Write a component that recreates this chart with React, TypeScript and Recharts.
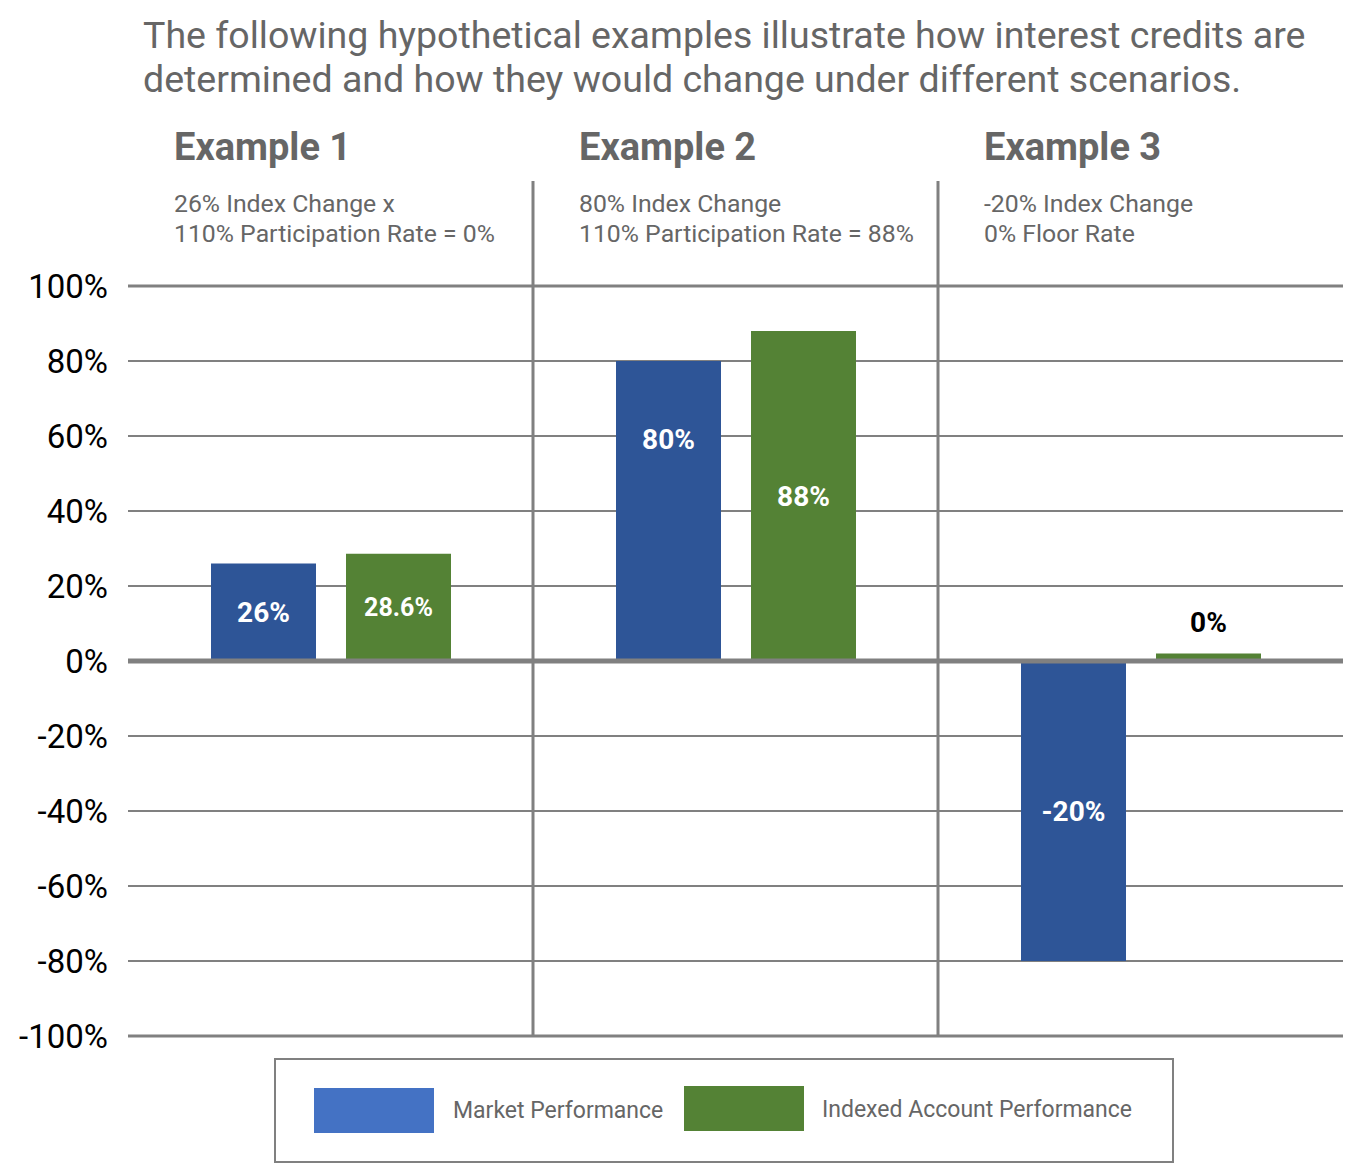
import React from "react";
import {
  BarChart,
  Bar,
  XAxis,
  YAxis,
  CartesianGrid,
  ReferenceLine,
  LabelList,
} from "recharts";

const examples = ["Example 1", "Example 2", "Example 3"];
const descLine1 = ["26% Index Change x", "80% Index Change", "-20% Index Change"];
const descLine2 = [
  "110% Participation Rate = 0%",
  "110% Participation Rate = 88%",
  "0% Floor Rate",
];
// bar heights as drawn
const marketValues = [26, 80, -80];
const indexedValues = [28.6, 88, 2];
// printed labels
const marketLabels = ["26%", "80%", "-20%"];
const indexedLabels = ["28.6%", "88%", "0%"];
const yTicks = [-100, -80, -60, -40, -20, 0, 20, 40, 60, 80, 100];
// column boundaries on the helper axis
const separators = [1, 2];

const data = examples.map((name, i) => ({
  name,
  pos: i + 0.5,
  market: marketValues[i],
  indexed: indexedValues[i],
}));

const BLUE = "#2E5597";
const GREEN = "#548235";
const GRID = "#808080";
const FONT = "Roboto, 'Noto Sans', sans-serif";

// header text above each column, x comes from the axis
const HeaderTick = ({ x, payload, index }: any) => {
  const left = x - 202.5 + 46;
  return (
    <g>
      <text
        x={left}
        y={160}
        fontSize={38}
        fontWeight={700}
        fill="#666666"
        fontFamily={FONT}
      >
        {payload.value}
      </text>
      <text x={left} y={212} fontSize={24.8} fill="#666666" fontFamily={FONT}>
        {descLine1[index]}
      </text>
      <text x={left} y={242} fontSize={24.8} fill="#666666" fontFamily={FONT}>
        {descLine2[index]}
      </text>
    </g>
  );
};

const YTick = ({ y, payload }: any) => (
  <text
    x={108}
    y={y}
    dy={12}
    textAnchor="end"
    fontSize={33}
    fill="#000"
    fontFamily={FONT}
  >
    {payload.value}%
  </text>
);

const makeLabel = (labels: string[], series: string) => (props: any) => {
  const { x, y, width, height, index } = props;
  const cx = x + width / 2;
  const h = Number(height);
  const text = labels[index];
  const size = text.length > 4 ? 25 : 28;
  // the small bar gets its label above it in black
  if (Math.abs(h) < 20) {
    return (
      <text
        x={cx}
        y={y - 22}
        textAnchor="middle"
        fontSize={size}
        fontWeight={700}
        fill="#000"
        fontFamily={FONT}
      >
        {text}
      </text>
    );
  }
  let cy = y + h / 2;
  if (series === "market" && index === 1) cy = y + h * 0.26;
  return (
    <text
      x={cx}
      y={cy}
      dy={size * 0.36}
      textAnchor="middle"
      fontSize={size}
      fontWeight={700}
      fill="#fff"
      fontFamily={FONT}
    >
      {text}
    </text>
  );
};

export default function App() {
  return (
    <div
      style={{
        position: "absolute",
        left: 0,
        top: 0,
        width: 1346,
        height: 1164,
        background: "#fff",
        fontFamily: FONT,
      }}
    >
      <div
        style={{
          position: "absolute",
          left: 143,
          top: 13,
          fontSize: 37.5,
          lineHeight: "44px",
          color: "#666666",
          whiteSpace: "nowrap",
        }}
      >
        The following hypothetical examples illustrate how interest credits are
        <br />
        determined and how they would change under different scenarios.
      </div>

      <BarChart
        width={1346}
        height={1164}
        data={data}
        margin={{ top: 256, right: 3, bottom: 128, left: 0 }}
        barSize={105}
        barGap={30}
        style={{ position: "absolute", left: 0, top: 0 }}
      >
        <CartesianGrid
          horizontal
          vertical={false}
          stroke={GRID}
          strokeWidth={2}
        />
        <XAxis
          dataKey="name"
          orientation="top"
          height={30}
          axisLine={false}
          tickLine={false}
          tick={<HeaderTick />}
          interval={0}
        />
        <XAxis
          xAxisId="sep"
          dataKey="pos"
          type="number"
          domain={[0, 3]}
          allowDataOverflow
          hide
        />
        <YAxis
          width={128}
          domain={[-100, 100]}
          ticks={yTicks}
          axisLine={false}
          tickLine={false}
          tick={<YTick />}
          interval={0}
        />
        <Bar dataKey="market" fill={BLUE} isAnimationActive={false}>
          <LabelList dataKey="market" content={makeLabel(marketLabels, "market")} />
        </Bar>
        <Bar dataKey="indexed" fill={GREEN} isAnimationActive={false}>
          <LabelList dataKey="indexed" content={makeLabel(indexedLabels, "indexed")} />
        </Bar>
        <ReferenceLine y={100} stroke={GRID} strokeWidth={3} />
        <ReferenceLine y={0} stroke={GRID} strokeWidth={5} />
        <ReferenceLine y={-100} stroke={GRID} strokeWidth={3} />
        {separators.map((v) => (
          <ReferenceLine
            key={v}
            xAxisId="sep"
            segment={[
              { x: v, y: -100 },
              { x: v, y: 128 },
            ]}
            ifOverflow="visible"
            stroke={GRID}
            strokeWidth={3}
          />
        ))}
      </BarChart>

      <div
        style={{
          position: "absolute",
          left: 274,
          top: 1058,
          width: 896,
          height: 101,
          border: `2px solid ${GRID}`,
          boxSizing: "content-box",
        }}
      >
        <div
          style={{
            position: "absolute",
            left: 38,
            top: 28,
            width: 120,
            height: 45,
            background: "#4472C4",
          }}
        />
        <div
          style={{
            position: "absolute",
            left: 177,
            top: 37,
            fontSize: 23,
            color: "#666666",
            lineHeight: "27px",
          }}
        >
          Market Performance
        </div>
        <div
          style={{
            position: "absolute",
            left: 408,
            top: 26,
            width: 120,
            height: 45,
            background: GREEN,
          }}
        />
        <div
          style={{
            position: "absolute",
            left: 546,
            top: 36,
            fontSize: 23,
            color: "#666666",
            lineHeight: "27px",
          }}
        >
          Indexed Account Performance
        </div>
      </div>
    </div>
  );
}
